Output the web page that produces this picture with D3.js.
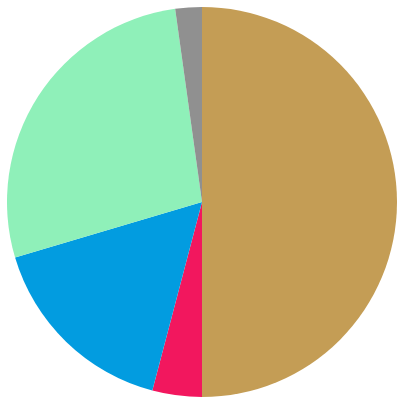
<!DOCTYPE html>
<html>
<head>
<meta charset="utf-8">
<script src="https://cdn.jsdelivr.net/npm/d3@7.9.0/dist/d3.min.js"></script>
<style>
  html, body { margin: 0; padding: 0; background: #fff; }
</style>
</head>
<body>
<div id="chart"></div>
<script>
const categories = ['A', 'B', 'C', 'D', 'E'];
const values = [50.0, 4.1, 16.3, 27.4, 2.2];
const colors = ['#C49D55', '#F2175E', '#029CE0', '#8FF0B9', '#909090'];

const width = 403, height = 403;
const cx = 202, cy = 202, radius = 195;

const svg = d3.select('#chart').append('svg')
  .attr('width', width)
  .attr('height', height);

const pie = d3.pie().sort(null).value(d => d.value);
const arc = d3.arc().innerRadius(0).outerRadius(radius);

const data = categories.map((c, i) => ({ name: c, value: values[i], color: colors[i] }));

svg.append('g')
  .attr('transform', `translate(${cx},${cy})`)
  .selectAll('path')
  .data(pie(data))
  .enter().append('path')
  .attr('d', arc)
  .attr('fill', d => d.data.color);
</script>
</body>
</html>
